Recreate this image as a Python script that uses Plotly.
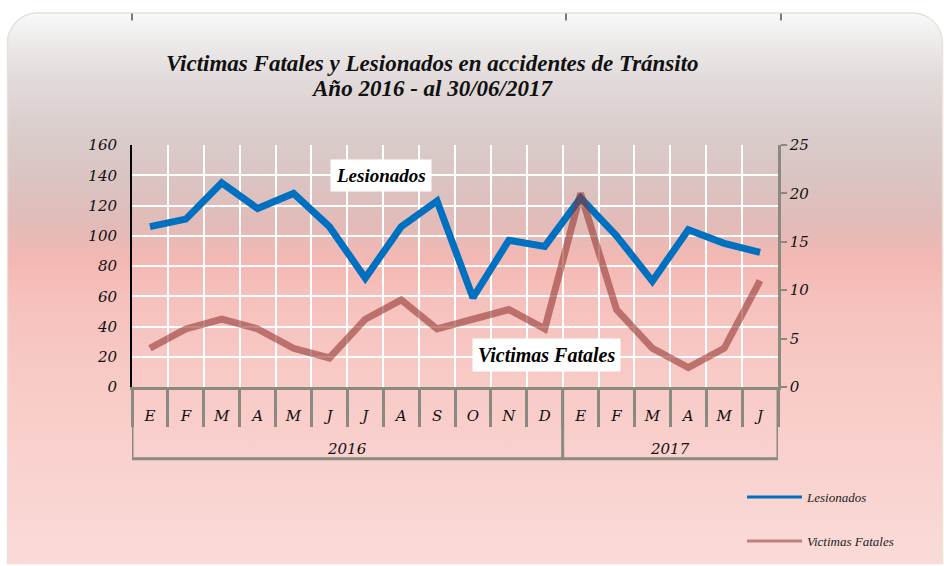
import base64
import plotly.graph_objects as go

# ---------------- data ----------------
months = ['E', 'F', 'M', 'A', 'M', 'J', 'J', 'A', 'S', 'O', 'N', 'D',
          'E', 'F', 'M', 'A', 'M', 'J']
years = ['2016'] * 12 + ['2017'] * 6
lesionados = [106, 111, 135, 118, 128, 106, 72, 106, 123, 59, 97, 93,
              125, 100, 70, 104, 95, 89]
fatales = [4, 6, 7, 6, 4, 3, 7, 9, 6, 7, 8, 6,
           20, 8, 4, 2, 4, 11]
left_ticks = [0, 20, 40, 60, 80, 100, 120, 140, 160]
right_ticks = [0, 5, 10, 15, 20, 25]
title_lines = ['Victimas Fatales y Lesionados en accidentes de Tránsito',
               'Año 2016 - al 30/06/2017']

# ---------------- geometry ----------------
W, H = 944, 566
L, R, T, B = 132, 778, 145, 388
pw, ph = R - L, B - T


def px(xp):
    return (xp - L) / pw


def py(yp):
    return (B - yp) / ph


n = len(months)
xs = list(range(n))
boundaries = [i - 0.5 for i in range(n + 1)]

# ---------------- background ----------------
stops = [(12, '#f9f9f9'), (40, '#eeebeb'), (80, '#e2dada'), (130, '#dacdcc'),
         (180, '#dac4c2'), (225, '#e2bbb8'), (262, '#f4b8b3'), (300, '#f6c1bd'),
         (380, '#f8cac6'), (470, '#f9d2cf'), (566, '#fadbd8')]
stop_xml = ''.join(
    f'<stop offset="{(y - 12) / (566 - 12):.4f}" stop-color="{c}"/>' for y, c in stops)
svg = (
    f'<svg xmlns="http://www.w3.org/2000/svg" width="{W}" height="{H}" '
    f'viewBox="0 0 {W} {H}" preserveAspectRatio="none">'
    f'<defs><linearGradient id="g" gradientUnits="userSpaceOnUse" x1="0" y1="12" x2="0" y2="566">'
    f'{stop_xml}</linearGradient></defs>'
    f'<rect x="0" y="0" width="{W}" height="{H}" fill="#ffffff"/>'
    f'<rect x="7.5" y="12.5" width="935" height="620" rx="30" ry="30" '
    f'fill="url(#g)" stroke="#e8e2d6" stroke-width="1.5"/>'
    f'</svg>'
)
bg_uri = 'data:image/svg+xml;base64,' + base64.b64encode(svg.encode()).decode()

serif = 'Liberation Serif'
tickfont = dict(family='DejaVu Serif', size=15, color='#111111', style='italic')
gray = '#8a8a80'

fig = go.Figure()

fig.add_trace(go.Scatter(
    x=xs, y=lesionados, name='Lesionados', mode='lines',
    line=dict(color='#0070C0', width=7), showlegend=False, yaxis='y'))
fig.add_trace(go.Scatter(
    x=xs, y=fatales, name='Victimas Fatales', mode='lines',
    line=dict(color='rgba(146,52,46,0.58)', width=7), showlegend=False, yaxis='y2'))

# legend entries (thin lines, as in the reference legend)
fig.add_trace(go.Scatter(
    x=[None], y=[None], name='Lesionados', mode='lines',
    line=dict(color='#0070C0', width=3), legend='legend'))
fig.add_trace(go.Scatter(
    x=[None], y=[None], name='Victimas Fatales', mode='lines',
    line=dict(color='#c0817b', width=3), legend='legend2', yaxis='y2'))

# ---------------- shapes: year row frame below axis ----------------
shapes = []
year_edges = [boundaries[0]] + [xs[i] - 0.5 for i in range(1, n) if years[i] != years[i - 1]] + [boundaries[-1]]
for xe in year_edges:
    shapes.append(dict(type='line', xref='x', yref='paper',
                       x0=xe, x1=xe, y0=0, y1=py(460),
                       line=dict(color=gray, width=3)))
shapes.append(dict(type='line', xref='x', yref='paper',
                   x0=boundaries[0], x1=boundaries[-1], y0=py(460), y1=py(460),
                   line=dict(color=gray, width=3)))
# small marks along the top edge
for xt in (132, 566, 781):
    shapes.append(dict(type='line', xref='paper', yref='paper',
                       x0=px(xt), x1=px(xt), y0=py(13), y1=py(20),
                       line=dict(color='#7a7a7a', width=2)))

# year labels centred under their months
year_ann = []
for yv in dict.fromkeys(years):
    idx = [i for i, v in enumerate(years) if v == yv]
    year_ann.append(dict(text=yv, xref='x', yref='paper', x=sum(idx) / len(idx),
                         y=py(450), yanchor='middle', showarrow=False, font=tickfont))

title_font = dict(family=serif, size=23, color='#111111', weight='bold', style='italic')
title_ann = [
    dict(text=title_lines[0], xref='paper', yref='paper', x=px(432), y=py(63),
         xanchor='center', yanchor='middle', showarrow=False, font=title_font),
    dict(text=title_lines[1], xref='paper', yref='paper', x=px(432), y=py(88),
         xanchor='center', yanchor='middle', showarrow=False, font=title_font),
]

ann_font = dict(family=serif, color='#000000', weight='bold', style='italic')

fig.update_layout(
    width=W, height=H,
    margin=dict(l=L, r=W - R, t=T, b=H - B),
    paper_bgcolor='#ffffff',
    plot_bgcolor='rgba(0,0,0,0)',
    images=[dict(source=bg_uri, xref='paper', yref='paper',
                 x=px(0), y=py(0), sizex=W / pw, sizey=H / ph,
                 xanchor='left', yanchor='top', sizing='stretch', layer='below')],
    xaxis=dict(
        range=[boundaries[0], boundaries[-1]], tickmode='array', tickvals=xs, ticktext=months,
        ticks='outside', ticklen=13, tickcolor='rgba(0,0,0,0)', showgrid=False,
        minor=dict(tickmode='array', tickvals=boundaries, ticks='outside', ticklen=37,
                   tickcolor=gray, tickwidth=3, showgrid=True, gridcolor='#ffffff',
                   gridwidth=2),
        showline=True, linecolor=gray, linewidth=3, tickfont=tickfont, zeroline=False),
    yaxis=dict(
        range=[0, 160], tickvals=left_ticks, showgrid=True, gridcolor='#ffffff',
        gridwidth=2, showline=True, linecolor='#000000', linewidth=2,
        ticks='', tickfont=tickfont, ticklabelstandoff=10, zeroline=False),
    yaxis2=dict(
        range=[0, 25], tickvals=right_ticks, overlaying='y', side='right',
        showgrid=False, showline=True, linecolor=gray, linewidth=2.5,
        ticks='outside', ticklen=6, tickcolor=gray, tickwidth=2,
        tickfont=tickfont, zeroline=False),
    legend=dict(x=px(742), y=py(497), xanchor='left', yanchor='middle',
                bgcolor='rgba(0,0,0,0)', itemwidth=55,
                font=dict(family=serif, size=13, color='#222222', style='italic')),
    legend2=dict(x=px(742), y=py(541), xanchor='left', yanchor='middle',
                 bgcolor='rgba(0,0,0,0)', itemwidth=55,
                 font=dict(family=serif, size=13, color='#222222', style='italic')),
    annotations=[
        dict(text='Lesionados', xref='paper', yref='paper', x=px(381), y=py(176),
             xanchor='center', yanchor='middle',
             showarrow=False, bgcolor='#ffffff', borderpad=5,
             font=dict(size=19, **ann_font)),
        dict(text='Victimas Fatales', xref='paper', yref='paper', x=px(546), y=py(355.5),
             xanchor='center', yanchor='middle',
             showarrow=False, bgcolor='#ffffff', borderpad=5,
             font=dict(size=20, **ann_font)),
    ] + year_ann + title_ann,
    shapes=shapes,
)

fig.write_html('out.html', config={'displayModeBar': False},
               post_script="document.body.style.margin='0';")
